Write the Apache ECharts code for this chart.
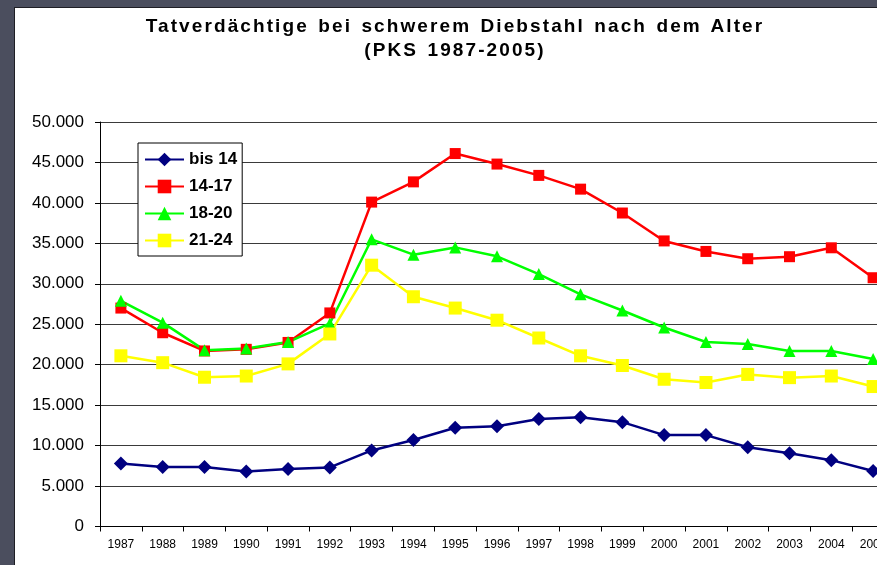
<!DOCTYPE html>
<html>
<head>
<meta charset="utf-8">
<script src="https://cdn.jsdelivr.net/npm/echarts@6/dist/echarts.min.js"></script>
<style>
	html,body{margin:0;padding:0;width:877px;height:565px;overflow:hidden;background:#4b4e5e;}
	#chart{position:absolute;left:14px;top:7px;width:882px;height:580px;background:#fff;border:1px solid #1e1e24;}
	#title{position:absolute;left:0;top:14px;width:910px;text-align:center;font-family:'Liberation Sans',Arial,sans-serif;
		font-weight:bold;font-size:19px;line-height:24px;letter-spacing:2.1px;word-spacing:2px;color:#000;}
</style>
</head>
<body>
<div id="chart"></div>
<div id="title">Tatverdächtige bei schwerem Diebstahl nach dem Alter<br>(PKS 1987-2005)</div>
<script>
	var years = ['1987','1988','1989','1990','1991','1992','1993','1994','1995','1996','1997','1998','1999','2000','2001','2002','2003','2004','2005'];
	var bis14 = [7800,7350,7350,6800,7100,7300,9400,10700,12200,12400,13300,13500,12900,11300,11300,9800,9050,8200,6850];
	var age14_17 = [27000,23950,21700,21900,22750,26400,40100,42600,46100,44800,43400,41700,38750,35300,34000,33100,33350,34450,30750];
	var age18_20 = [27900,25200,21800,22000,22800,25100,35500,33600,34500,33400,31200,28700,26700,24600,22800,22550,21700,21700,20700];
	var age21_24 = [21100,20250,18450,18600,20100,23800,32300,28400,27000,25500,23300,21100,19900,18200,17800,18800,18400,18600,17300];
	var yTicks = ['0','5.000','10.000','15.000','20.000','25.000','30.000','35.000','40.000','45.000','50.000'];

	function makeSeries(name, data, color, symbol, size){
		return {
			name: name,
			type: 'line',
			data: data,
			symbol: symbol,
			symbolSize: size,
			lineStyle: {color: color, width: 2.5},
			itemStyle: {color: color},
			animation: false
		};
	}

	var chart = echarts.init(document.getElementById('chart'));
	var option = {
		backgroundColor: '#ffffff',
		legend: {
			orient: 'vertical',
			left: 123,
			top: 135,
			padding: [8, 5, 7, 6],
			itemWidth: 39,
			itemHeight: 17,
			itemGap: 10,
			borderColor: '#000',
			borderWidth: 1,
			backgroundColor: '#fff',
			textStyle: {fontFamily: 'Liberation Sans', fontWeight: 'bold', fontSize: 17, color: '#000'},
			data: ['bis 14', '14-17', '18-20', '21-24']
		},
		grid: {left: 85, top: 114, width: 794, height: 404.5},
		xAxis: {
			type: 'category',
			data: years,
			boundaryGap: true,
			axisLine: {lineStyle: {color: '#000', width: 1}},
			axisTick: {show: true, length: 5, lineStyle: {color: '#000'}},
			axisLabel: {interval: 0, margin: 12, fontFamily: 'Liberation Sans', fontSize: 12, color: '#000'}
		},
		yAxis: {
			type: 'value',
			min: 0,
			max: 50000,
			interval: 5000,
			axisLine: {show: true, lineStyle: {color: '#000', width: 1}},
			axisTick: {show: true, length: 5, lineStyle: {color: '#000'}},
			splitLine: {lineStyle: {color: '#3a3a3a', width: 1}},
			axisLabel: {
				margin: 16,
				fontFamily: 'Liberation Sans',
				fontSize: 17,
				color: '#000',
				formatter: function(v){ return yTicks[Math.round(v/5000)]; }
			}
		},
		series: [
			makeSeries('bis 14', bis14, '#000080', 'diamond', 14),
			makeSeries('14-17', age14_17, '#ff0000', 'rect', 11),
			makeSeries('18-20', age18_20, '#00ff00', 'triangle', 12),
			makeSeries('21-24', age21_24, '#ffff00', 'rect', 13)
		]
	};
	chart.setOption(option);
</script>
</body>
</html>
